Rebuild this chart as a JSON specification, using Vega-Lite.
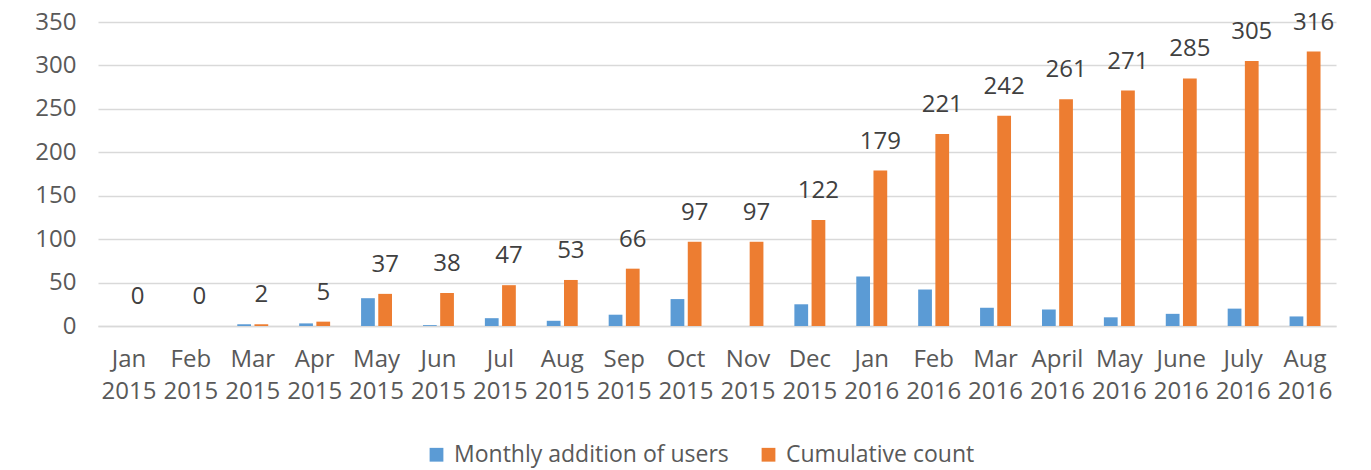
{
  "$schema": "https://vega.github.io/schema/vega-lite/v6.json",
  "autosize": {"type": "none"},
  "width": 1238,
  "height": 304,
  "padding": {"left": 98, "top": 22, "right": 35, "bottom": 144},
  "background": "white",
  "config": {
    "view": {"stroke": null},
    "font": "Open Sans",
    "axis": {"labelFont": "Open Sans", "labelFontSize": 24, "labelColor": "#595959", "titleFont": "Open Sans"},
    "legend": {"labelFont": "Open Sans", "labelFontSize": 23, "labelColor": "#595959"}
  },
  "data": {
    "values": [
      {"month": "Jan 2015", "series": "Monthly addition of users", "value": 0},
      {"month": "Jan 2015", "series": "Cumulative count", "value": 0},
      {"month": "Feb 2015", "series": "Monthly addition of users", "value": 0},
      {"month": "Feb 2015", "series": "Cumulative count", "value": 0},
      {"month": "Mar 2015", "series": "Monthly addition of users", "value": 2},
      {"month": "Mar 2015", "series": "Cumulative count", "value": 2},
      {"month": "Apr 2015", "series": "Monthly addition of users", "value": 3},
      {"month": "Apr 2015", "series": "Cumulative count", "value": 5},
      {"month": "May 2015", "series": "Monthly addition of users", "value": 32},
      {"month": "May 2015", "series": "Cumulative count", "value": 37},
      {"month": "Jun 2015", "series": "Monthly addition of users", "value": 1},
      {"month": "Jun 2015", "series": "Cumulative count", "value": 38},
      {"month": "Jul 2015", "series": "Monthly addition of users", "value": 9},
      {"month": "Jul 2015", "series": "Cumulative count", "value": 47},
      {"month": "Aug 2015", "series": "Monthly addition of users", "value": 6},
      {"month": "Aug 2015", "series": "Cumulative count", "value": 53},
      {"month": "Sep 2015", "series": "Monthly addition of users", "value": 13},
      {"month": "Sep 2015", "series": "Cumulative count", "value": 66},
      {"month": "Oct 2015", "series": "Monthly addition of users", "value": 31},
      {"month": "Oct 2015", "series": "Cumulative count", "value": 97},
      {"month": "Nov 2015", "series": "Monthly addition of users", "value": 0},
      {"month": "Nov 2015", "series": "Cumulative count", "value": 97},
      {"month": "Dec 2015", "series": "Monthly addition of users", "value": 25},
      {"month": "Dec 2015", "series": "Cumulative count", "value": 122},
      {"month": "Jan 2016", "series": "Monthly addition of users", "value": 57},
      {"month": "Jan 2016", "series": "Cumulative count", "value": 179},
      {"month": "Feb 2016", "series": "Monthly addition of users", "value": 42},
      {"month": "Feb 2016", "series": "Cumulative count", "value": 221},
      {"month": "Mar 2016", "series": "Monthly addition of users", "value": 21},
      {"month": "Mar 2016", "series": "Cumulative count", "value": 242},
      {"month": "April 2016", "series": "Monthly addition of users", "value": 19},
      {"month": "April 2016", "series": "Cumulative count", "value": 261},
      {"month": "May 2016", "series": "Monthly addition of users", "value": 10},
      {"month": "May 2016", "series": "Cumulative count", "value": 271},
      {"month": "June 2016", "series": "Monthly addition of users", "value": 14},
      {"month": "June 2016", "series": "Cumulative count", "value": 285},
      {"month": "July 2016", "series": "Monthly addition of users", "value": 20},
      {"month": "July 2016", "series": "Cumulative count", "value": 305},
      {"month": "Aug 2016", "series": "Monthly addition of users", "value": 11},
      {"month": "Aug 2016", "series": "Cumulative count", "value": 316}
    ]
  },
  "encoding": {
    "x": {
      "field": "month", "type": "nominal", "sort": null,
      "scale": {"paddingInner": 0.5, "paddingOuter": 0.25},
      "axis": {
        "title": null, "labelAngle": 0, "ticks": false,
        "domainColor": "#d9d9d9", "domainWidth": 1.5,
        "labelPadding": 21, "labelLineHeight": 32, "labelBaseline": "top",
        "labelExpr": "split(datum.value, ' ')"
      }
    },
    "xOffset": {
      "field": "series", "type": "nominal",
      "scale": {"domain": ["Monthly addition of users", "Cumulative count"], "paddingInner": 0.2, "paddingOuter": 0}
    },
    "y": {
      "field": "value", "type": "quantitative",
      "scale": {"domain": [0, 350]},
      "axis": {
        "title": null, "values": [0, 50, 100, 150, 200, 250, 300, 350],
        "ticks": false, "domain": false, "labelPadding": 22,
        "gridColor": "#d9d9d9", "gridWidth": 1.5
      }
    }
  },
  "layer": [
    {
      "mark": {"type": "bar"},
      "encoding": {
        "color": {
          "field": "series", "type": "nominal",
          "scale": {"domain": ["Monthly addition of users", "Cumulative count"], "range": ["#5B9BD5", "#ED7D31"]},
          "legend": {
            "title": null, "orient": "none", "direction": "horizontal",
            "legendX": 327, "legendY": 421,
            "symbolType": "square", "symbolSize": 190, "symbolStrokeWidth": 0,
            "columnPadding": 28, "labelOffset": 6, "labelLimit": 400
          }
        }
      }
    },
    {
      "transform": [{"filter": "datum.series == 'Cumulative count'"}],
      "mark": {"type": "text", "dy": -22, "baseline": "alphabetic", "fontSize": 24, "color": "#404040", "font": "Open Sans"},
      "encoding": {
        "text": {"field": "value", "type": "quantitative"}
      }
    }
  ]
}
